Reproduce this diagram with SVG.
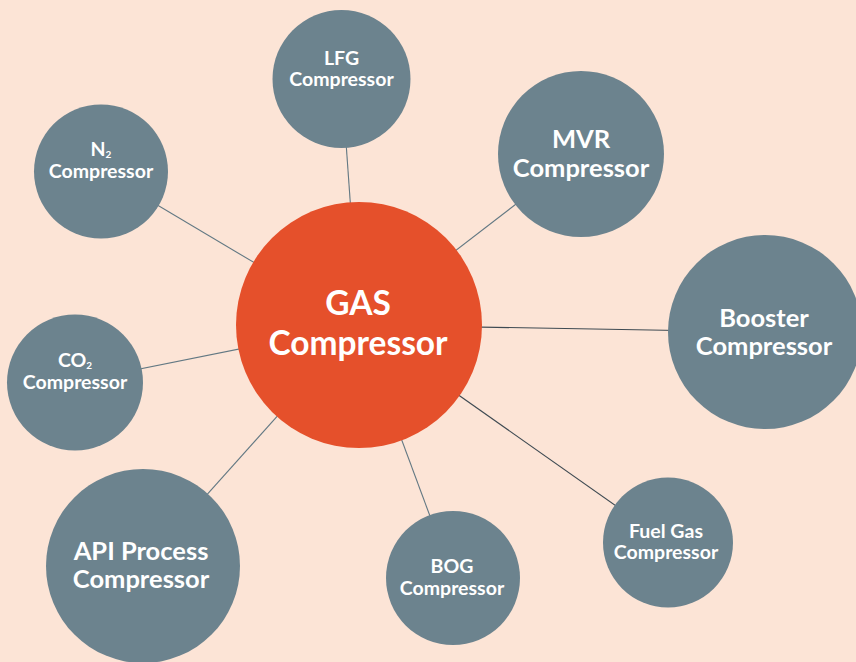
<svg xmlns="http://www.w3.org/2000/svg" width="856" height="662" viewBox="0 0 856 662">
  <style>
    .bg { fill: #FCE4D6; }
    .hub { fill: #E5502B; }
    .node { fill: #6C838E; }
    .link { stroke: #627883; stroke-width: 1.1; fill: none; }
    .link.dark { stroke: #3E4A52; }
    text { font-family: "Lato", "Open Sans", "Liberation Sans", sans-serif; font-weight: 700; fill: #FFFFFF; text-anchor: middle; }
    .s { font-size: 19.5px; }
    .m { font-size: 25.5px; }
    .l { font-size: 33.5px; }
    .sub { font-size: 10px; }
  </style>
  <rect class="bg" x="0" y="0" width="856" height="662"/>

  <!-- connectors: spokes from the hub centre to each satellite centre -->
  <g id="connectors">
    <line class="link" x1="359" y1="325" x2="341.5" y2="79"/>
    <line class="link" x1="359" y1="325" x2="581" y2="154"/>
    <line class="link" x1="359" y1="325" x2="101" y2="171.5"/>
    <line class="link dark" x1="359" y1="325" x2="765" y2="332"/>
    <line class="link" x1="359" y1="325" x2="75" y2="382"/>
    <line class="link" x1="359" y1="325" x2="143" y2="566"/>
    <line class="link" x1="359" y1="325" x2="453" y2="578"/>
    <line class="link dark" x1="359" y1="325" x2="668" y2="542.5"/>
  </g>

  <g id="lfg">
    <circle class="node" cx="341.5" cy="79" r="69"/>
    <text class="s" x="341.5" y="65">LFG</text>
    <text class="s" x="341.5" y="86">Compressor</text>
  </g>

  <g id="mvr">
    <circle class="node" cx="581" cy="154" r="83"/>
    <text class="m" x="581" y="148">MVR</text>
    <text class="m" x="581" y="177">Compressor</text>
  </g>

  <g id="n2">
    <circle class="node" cx="101" cy="171.5" r="67"/>
    <text class="s" x="101" y="156">N<tspan class="sub" dy="2">2</tspan></text>
    <text class="s" x="101" y="178">Compressor</text>
  </g>

  <g id="booster">
    <circle class="node" cx="765" cy="332" r="97"/>
    <text class="m" x="764" y="327">Booster</text>
    <text class="m" x="764" y="355">Compressor</text>
  </g>

  <g id="co2">
    <circle class="node" cx="75" cy="382.5" r="68"/>
    <text class="s" x="75" y="367">CO<tspan class="sub" dy="2">2</tspan></text>
    <text class="s" x="75" y="389">Compressor</text>
  </g>

  <g id="api">
    <circle class="node" cx="143" cy="566" r="97"/>
    <text class="m" x="141" y="560">API Process</text>
    <text class="m" x="141" y="588">Compressor</text>
  </g>

  <g id="bog">
    <circle class="node" cx="453" cy="578" r="67"/>
    <text class="s" x="452" y="573">BOG</text>
    <text class="s" x="452" y="595">Compressor</text>
  </g>

  <g id="fuel-gas">
    <circle class="node" cx="668" cy="542.5" r="65"/>
    <text class="s" x="666" y="538">Fuel Gas</text>
    <text class="s" x="666" y="559">Compressor</text>
  </g>

  <g id="gas">
    <circle class="hub" cx="359" cy="325" r="123"/>
    <text class="l" x="358" y="315">GAS</text>
    <text class="l" x="358" y="355">Compressor</text>
  </g>
</svg>
